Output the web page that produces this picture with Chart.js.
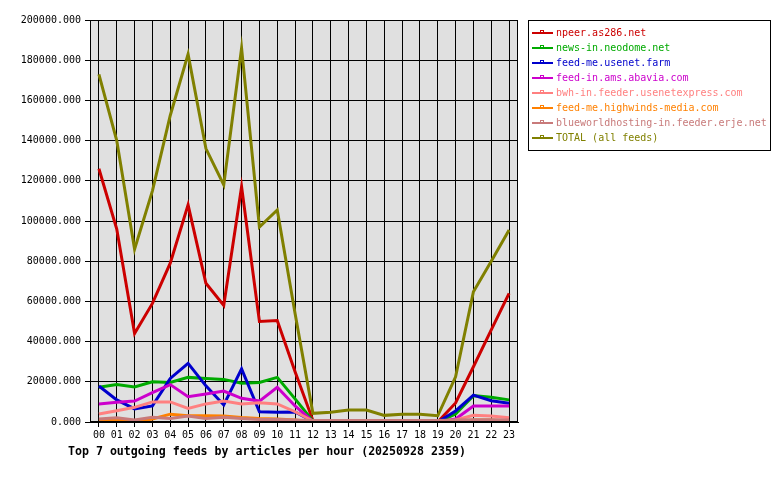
<!DOCTYPE html>
<html>
<head>
<meta charset="utf-8">
<script src="https://cdn.jsdelivr.net/npm/chart.js@4.4.1/dist/chart.umd.min.js"></script>
<style>
  html, body { margin: 0; padding: 0; background: #fff; }
  #wrap { width: 780px; height: 480px; position: relative; }
</style>
</head>
<body>
<div id="wrap"><canvas id="feedsChart"></canvas></div>
<script>
// horas del día
const hours = ['00', '01', '02', '03', '04', '05', '06', '07', '08', '09', '10', '11',
  '12', '13', '14', '15', '16', '17', '18', '19', '20', '21', '22', '23'];

const feedNames = [
  'npeer.as286.net',
  'news-in.neodome.net',
  'feed-me.usenet.farm',
  'feed-in.ams.abavia.com',
  'bwh-in.feeder.usenetexpress.com',
  'feed-me.highwinds-media.com',
  'blueworldhosting-in.feeder.erje.net',
  'TOTAL (all feeds)'
];

const npeer = [126000, 96000, 44000, 59000, 79000, 108000, 69000, 58000, 117000, 50000, 50500, 25000,
  800, 0, 0, 0, 0, 0, 0, 0, 9500, 27500, 45800, 64000];
const neodome = [17300, 18700, 17400, 20000, 19700, 22200, 21700, 21200, 19300, 19700, 22200, 11500,
  500, 0, 0, 0, 0, 0, 0, 0, 4000, 13100, 12300, 11000];
const usenetFarm = [17900, 11000, 6500, 8000, 21700, 29200, 18000, 8500, 26400, 5100, 4800, 5000,
  300, 0, 0, 0, 0, 0, 0, 0, 5500, 13400, 10600, 9300];
const abavia = [9000, 9800, 10400, 14600, 18600, 12600, 13900, 15400, 11800, 10400, 17300, 8000,
  300, 0, 0, 0, 0, 0, 0, 0, 1500, 8000, 8000, 8000];
const usenetExpress = [4000, 5600, 7300, 10000, 10000, 6800, 9000, 10400, 9000, 9600, 9000, 5100,
  500, 0, 0, 0, 0, 0, 0, 0, 1000, 3300, 3000, 2100];
const highwinds = [600, 1000, 0, 1500, 3900, 3100, 3100, 3000, 2300, 1800, 1500, 1000,
  0, 0, 0, 0, 0, 0, 0, 0, 0, 1000, 1000, 500];
const erje = [1500, 2100, 1000, 2300, 1800, 3000, 1800, 2300, 1800, 1300, 1300, 1000,
  800, 800, 800, 800, 800, 800, 800, 800, 1000, 1100, 1100, 1000];
const total = [173000, 140000, 86000, 115000, 152500, 183000, 136000, 118000, 186000, 97000, 105500, 54000,
  4300, 4800, 6000, 6000, 3300, 3800, 3800, 3100, 22500, 64800, 80000, 95500];

const seriesValues = [npeer, neodome, usenetFarm, abavia, usenetExpress, highwinds, erje, total];
const colors = ['#cc0000', '#00aa00', '#0000cc', '#cc00cc', '#ff8080', '#ff8000', '#c87a7a', '#808000'];

const chartTitle = 'Top 7 outgoing feeds by articles per hour (20250928 2359)';
const monoFont = "'DejaVu Sans Mono', 'Liberation Mono', monospace";

// fondo gris y marco del área de datos
const plotFrame = {
  id: 'plotFrame',
  beforeDraw(chart) {
    const { ctx, chartArea: a } = chart;
    ctx.save();
    ctx.fillStyle = '#e0e0e0';
    ctx.fillRect(a.left, a.top, a.right - a.left, a.bottom - a.top);
    ctx.restore();
  },
  afterDraw(chart) {
    const { ctx, chartArea: a } = chart;
    ctx.save();
    ctx.strokeStyle = '#000';
    ctx.lineWidth = 1;
    ctx.strokeRect(Math.round(a.left) + 0.5, Math.round(a.top) + 0.5,
      Math.round(a.right - a.left) - 1, Math.round(a.bottom - a.top) - 1);

    // título abajo
    ctx.fillStyle = '#000';
    ctx.font = 'bold 11.6px ' + monoFont;
    ctx.textBaseline = 'middle';
    ctx.textAlign = 'left';
    ctx.fillText(chartTitle, 68, 452);

    // leyenda con recuadro
    ctx.fillStyle = '#fff';
    ctx.fillRect(528.5, 20.5, 242, 130);
    ctx.strokeRect(528.5, 20.5, 242, 130);
    ctx.font = '10px ' + monoFont;
    chart.data.datasets.forEach((ds, i) => {
      const y = 33 + i * 15;
      ctx.strokeStyle = ds.borderColor;
      ctx.lineWidth = 2;
      ctx.beginPath();
      ctx.moveTo(532, y);
      ctx.lineTo(553, y);
      ctx.stroke();
      ctx.lineWidth = 1;
      ctx.strokeRect(540.5, y - 2.5, 3, 2);
      ctx.fillStyle = ds.borderColor;
      ctx.fillText(ds.label, 556, y);
    });
    ctx.restore();
  }
};

const datasets = feedNames.map((name, i) => ({
  label: name,
  data: seriesValues[i],
  borderColor: colors[i],
  backgroundColor: colors[i],
  borderWidth: 3,
  pointRadius: 0,
  tension: 0,
  order: feedNames.length - i
}));

new Chart(document.getElementById('feedsChart'), {
  type: 'line',
  data: { labels: hours, datasets: datasets },
  plugins: [plotFrame],
  options: {
    responsive: true,
    maintainAspectRatio: false,
    animation: false,
    events: [],
    layout: { padding: { left: 0, right: 262, top: 20, bottom: 0 } },
    plugins: {
      legend: { display: false },
      tooltip: { enabled: false }
    },
    scales: {
      x: {
        type: 'category',
        offset: true,
        afterFit: (scale) => { scale.height = 58; },
        grid: { color: '#000', lineWidth: 1, offset: false, drawTicks: true, tickLength: 5 },
        border: { display: true, color: '#000', width: 1 },
        ticks: {
          color: '#000', padding: 2, autoSkip: false, maxRotation: 0,
          font: { family: monoFont, size: 10 }
        }
      },
      y: {
        min: 0,
        max: 200000,
        afterFit: (scale) => { scale.width = 90; },
        grid: { color: '#000', lineWidth: 1, drawTicks: true, tickLength: 5 },
        border: { display: true, color: '#000', width: 1 },
        ticks: {
          stepSize: 20000, color: '#000', padding: 4,
          font: { family: monoFont, size: 10 },
          callback: (v) => v.toFixed(3)
        }
      }
    }
  }
});
</script>
</body>
</html>
